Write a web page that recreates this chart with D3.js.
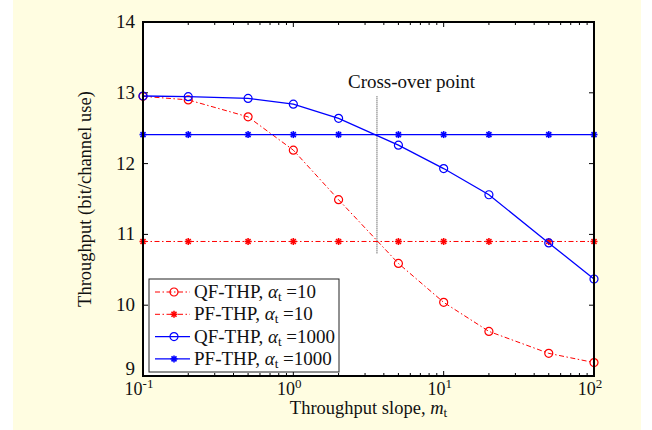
<!DOCTYPE html>
<html>
<head>
<meta charset="utf-8">
<script src="https://cdn.jsdelivr.net/npm/d3@7"></script>
<style>
  body { margin: 0; background: #ffffff; }
  svg text { font-family: "Liberation Serif", "Times New Roman", serif; fill: #111; }
</style>
</head>
<body>
<div id="chart"></div>
<script>
// data
var slopes = [0.1, 0.2, 0.5, 1, 2, 5, 10, 20, 50, 100];
var qf10 = [12.95, 12.90, 12.66, 12.19, 11.49, 10.59, 10.04, 9.63, 9.32, 9.19];
var pf10 = [10.90, 10.90, 10.90, 10.90, 10.90, 10.90, 10.90, 10.90, 10.90, 10.90];
var qf1000 = [12.955, 12.945, 12.92, 12.84, 12.64, 12.26, 11.93, 11.56, 10.88, 10.37];
var pf1000 = [12.41, 12.41, 12.41, 12.41, 12.41, 12.41, 12.41, 12.41, 12.41, 12.41];
var crossX = 3.6, crossY = [12.95, 10.73];
var yTicks = [9, 10, 11, 12, 13, 14];
var xTicks = [0.1, 1, 10, 100];
var xTickExp = ["-1", "0", "1", "2"];

var series = [
  {name: "QF-THP", alpha: "10", vals: qf10, color: "#ff0000", dash: "5,2.5,1.5,2.5", marker: "circle"},
  {name: "PF-THP", alpha: "10", vals: pf10, color: "#ff0000", dash: "5,2.5,1.5,2.5", marker: "star"},
  {name: "QF-THP", alpha: "1000", vals: qf1000, color: "#0000ff", dash: null, marker: "circle"},
  {name: "PF-THP", alpha: "1000", vals: pf1000, color: "#0000ff", dash: null, marker: "star"}
];

var W = 652, H = 430;
var margin = {top: 22, right: 58, bottom: 54, left: 143},
    width = W - margin.left - margin.right,
    height = H - margin.top - margin.bottom;

var svg = d3.select("#chart").append("svg")
    .attr("width", W)
    .attr("height", H);

// yellow figure background
svg.append("rect")
    .attr("x", 13).attr("y", 0)
    .attr("width", 628).attr("height", H)
    .attr("fill", "#fffde1");

var g = svg.append("g")
    .attr("transform", "translate(" + margin.left + "," + margin.top + ")");

g.append("rect")
    .attr("width", width).attr("height", height)
    .attr("fill", "#ffffff");

var x = d3.scaleLog().domain([0.1, 100]).range([0, width]);
var y = d3.scaleLinear().domain([9, 14]).range([height, 0]);

// minor ticks for log axis
var minor = [];
[0.1, 1, 10].forEach(function(d) {
  for (var k = 2; k <= 9; k++) minor.push(d * k);
});

// ticks (inward)
var tickG = g.append("g").attr("stroke", "#000").attr("stroke-width", 1);
xTicks.forEach(function(d) {
  tickG.append("line").attr("x1", x(d)).attr("x2", x(d)).attr("y1", height).attr("y2", height - 5);
  tickG.append("line").attr("x1", x(d)).attr("x2", x(d)).attr("y1", 0).attr("y2", 5);
});
minor.forEach(function(d) {
  tickG.append("line").attr("x1", x(d)).attr("x2", x(d)).attr("y1", height).attr("y2", height - 3);
  tickG.append("line").attr("x1", x(d)).attr("x2", x(d)).attr("y1", 0).attr("y2", 3);
});
yTicks.forEach(function(d) {
  tickG.append("line").attr("x1", 0).attr("x2", 5).attr("y1", y(d)).attr("y2", y(d));
  tickG.append("line").attr("x1", width).attr("x2", width - 5).attr("y1", y(d)).attr("y2", y(d));
});

// tick labels
g.selectAll(".ylab").data(yTicks).enter().append("text")
    .attr("class", "ylab")
    .attr("x", -8)
    .attr("y", function(d) { return y(d) + (d === 9 ? -1 : 6); })
    .attr("text-anchor", "end")
    .style("font-size", "19px")
    .text(function(d) { return d; });

var xl = g.selectAll(".xlab").data(xTicks).enter().append("text")
    .attr("class", "xlab")
    .attr("x", function(d) { return x(d) - 4; })
    .attr("y", height + 19)
    .attr("text-anchor", "middle")
    .style("font-size", "18px");
xl.append("tspan").text("10");
xl.append("tspan")
    .attr("dy", -7)
    .style("font-size", "13px")
    .text(function(d, i) { return xTickExp[i]; });

// axis titles
var xt = g.append("text")
    .attr("x", width / 2)
    .attr("y", height + 38)
    .attr("text-anchor", "middle")
    .style("font-size", "18.5px");
xt.append("tspan").text("Throughput slope, ");
xt.append("tspan").style("font-style", "italic").text("m");
xt.append("tspan").attr("dy", 3).style("font-size", "13px").text("t");

g.append("text")
    .attr("transform", "translate(-52," + (height / 2) + ") rotate(-90)")
    .attr("text-anchor", "middle")
    .style("font-size", "18.5px")
    .text("Throughput (bit/channel use)");

// cross-over marker
g.append("line")
    .attr("x1", x(crossX)).attr("x2", x(crossX))
    .attr("y1", y(crossY[0])).attr("y2", y(crossY[1]))
    .attr("stroke", "#333").attr("stroke-width", 1)
    .attr("stroke-dasharray", "1,1");
g.append("text")
    .attr("x", x(crossX) - 29)
    .attr("y", y(crossY[0]) - 8)
    .style("font-size", "19px")
    .text("Cross-over point");

// lines and markers
var line = d3.line()
    .x(function(d) { return x(d[0]); })
    .y(function(d) { return y(d[1]); });

function drawMarker(sel, type, color) {
  if (type === "circle") {
    sel.append("circle").attr("r", 4)
        .attr("fill", "none").attr("stroke", color).attr("stroke-width", 1.2);
  } else {
    var r = 3.5, q = 2.5;
    [[-r, 0, r, 0], [0, -r, 0, r], [-q, -q, q, q], [-q, q, q, -q]].forEach(function(c) {
      sel.append("line")
          .attr("x1", c[0]).attr("y1", c[1]).attr("x2", c[2]).attr("y2", c[3])
          .attr("stroke", color).attr("stroke-width", 1.6);
    });
  }
}

series.forEach(function(s) {
  var pts = slopes.map(function(d, i) { return [d, s.vals[i]]; });
  g.append("path")
      .datum(pts)
      .attr("d", line)
      .attr("fill", "none")
      .attr("stroke", s.color)
      .attr("stroke-width", s.dash ? 1 : 1.3)
      .attr("stroke-dasharray", s.dash);
  g.selectAll(null).data(pts).enter().append("g")
      .attr("transform", function(d) { return "translate(" + x(d[0]) + "," + y(d[1]) + ")"; })
      .each(function() { drawMarker(d3.select(this), s.marker, s.color); });
});

// axes box
g.append("rect")
    .attr("width", width).attr("height", height)
    .attr("fill", "none").attr("stroke", "#000").attr("stroke-width", 2);

// legend
var leg = g.append("g").attr("transform", "translate(6," + (height - 97) + ")");
leg.append("rect")
    .attr("width", 190).attr("height", 93)
    .attr("fill", "#fff").attr("stroke", "#222").attr("stroke-width", 1);
series.forEach(function(s, i) {
  var row = leg.append("g").attr("transform", "translate(0," + (13 + i * 22.3) + ")");
  row.append("line")
      .attr("x1", 6).attr("x2", 41).attr("y1", 0).attr("y2", 0)
      .attr("stroke", s.color).attr("stroke-width", s.dash ? 1 : 1.3)
      .attr("stroke-dasharray", s.dash);
  drawMarker(row.append("g").attr("transform", "translate(25,0)"), s.marker, s.color);
  var t = row.append("text").attr("x", 45).attr("y", 6).style("font-size", "19px");
  t.append("tspan").text(s.name + ", ");
  t.append("tspan").style("font-style", "italic").text("\u03b1");
  t.append("tspan").attr("dy", 3).style("font-size", "13px").text("t");
  t.append("tspan").attr("dy", -3).text(" =" + s.alpha);
});
</script>
</body>
</html>
